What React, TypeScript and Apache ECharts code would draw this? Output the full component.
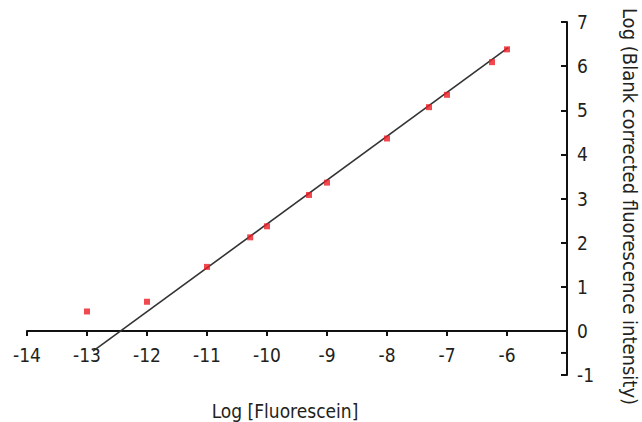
import React, { useEffect, useRef } from "react";
import * as echarts from "echarts";

const logConc = [-13, -12, -11, -10.28, -10, -9.3, -9, -8, -7.3, -7, -6.25, -6];
const logIntensity = [0.44, 0.66, 1.45, 2.12, 2.37, 3.08, 3.36, 4.36, 5.07, 5.35, 6.09, 6.38];
const fitX = [-12.9, -5.98];
const fitY = [-0.46, 6.42];
const xTicks = [-14, -13, -12, -11, -10, -9, -8, -7, -6];

const FONT = '"DejaVu Sans Condensed", "Liberation Sans Narrow", "Roboto", sans-serif';
const TEXT = "#231f20";

export default function App() {
  const ref = useRef<HTMLDivElement>(null);
  useEffect(() => {
    if (!ref.current) return;
    const chart = echarts.init(ref.current, undefined, { renderer: "svg" });
    const points = logConc.map((x, i) => [x, logIntensity[i]]);
    const fit = fitX.map((x, i) => [x, fitY[i]]);
    chart.setOption({
      animation: false,
      grid: [
        { left: 27, right: 75, top: 22, bottom: 47, outerBoundsMode: "none", containLabel: false },
        { left: 27, right: 75, top: 22, bottom: 91, outerBoundsMode: "none", containLabel: false },
      ],
      xAxis: [
        { type: "value", gridIndex: 0, min: -14, max: -5, interval: 1, show: false },
        {
          type: "value",
          gridIndex: 1,
          position: "bottom",
          min: -14,
          max: -5,
          interval: 1,
          name: "Log [Fluorescein]",
          nameLocation: "middle",
          nameGap: 70,
          nameMoveOverlap: false,
          nameTextStyle: { fontFamily: FONT, fontSize: 19, color: TEXT, padding: [0, 24, 0, 0] },
          axisLine: { onZero: false, lineStyle: { color: "#111", width: 2 } },
          axisTick: { show: true, length: 5, lineStyle: { color: "#111", width: 2 } },
          axisLabel: {
            fontFamily: FONT,
            fontSize: 19,
            color: TEXT,
            margin: 14,
            formatter: (v: number) => (xTicks.includes(v) ? String(v) : ""),
          },
          splitLine: { show: false },
        },
      ],
      yAxis: [
        {
          type: "value",
          gridIndex: 0,
          position: "right",
          min: -1,
          max: 7,
          interval: 1,
          name: "Log (Blank corrected fluorescence intensity)",
          nameLocation: "middle",
          nameRotate: -90,
          nameGap: 53,
          nameMoveOverlap: false,
          nameTextStyle: { fontFamily: FONT, fontSize: 20, color: TEXT, padding: [0, 0, 0, 16] },
          axisLine: { show: true, onZero: false, lineStyle: { color: "#111", width: 2 } },
          axisTick: { show: true, inside: true, length: 6, lineStyle: { color: "#111", width: 2 } },
          axisLabel: { fontFamily: FONT, fontSize: 19, color: TEXT, margin: 10 },
          splitLine: { show: false },
        },
        { type: "value", gridIndex: 1, min: 0, max: 7, show: false },
      ],
      series: [
        {
          type: "line",
          xAxisIndex: 0,
          yAxisIndex: 0,
          data: fit,
          showSymbol: false,
          symbol: "none",
          lineStyle: { color: "#333", width: 1.6 },
          z: 2,
        },
        {
          type: "scatter",
          xAxisIndex: 0,
          yAxisIndex: 0,
          data: points,
          symbol: "rect",
          symbolSize: 6,
          itemStyle: { color: "#ed1c24" },
          z: 3,
        },
      ],
    });
    const p = chart.convertToPixel({ xAxisIndex: 0, yAxisIndex: 0 }, [-5, -0.5]) as number[];
    chart.setOption({
      graphic: [
        {
          type: "line",
          shape: { x1: p[0] - 6, y1: p[1], x2: p[0], y2: p[1] },
          style: { stroke: "#111", lineWidth: 2 },
        },
      ],
    });
    return () => chart.dispose();
  }, []);
  return (
    <div
      ref={ref}
      style={{ position: "absolute", left: 0, top: 0, width: 642, height: 422, background: "#fff" }}
    />
  );
}
